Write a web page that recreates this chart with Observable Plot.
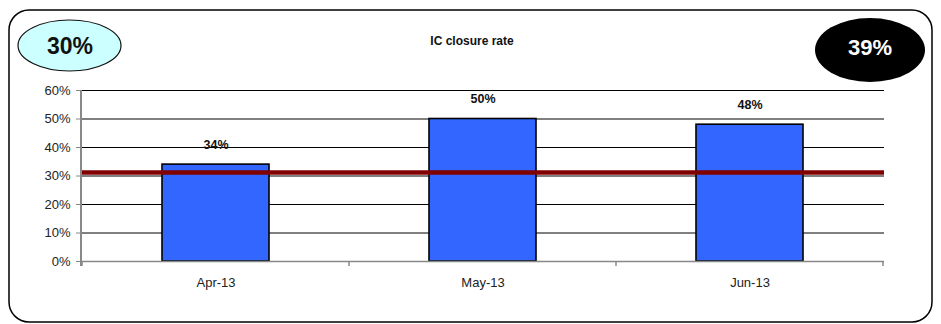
<!DOCTYPE html>
<html>
<head>
<meta charset="utf-8">
<script src="https://cdn.jsdelivr.net/npm/d3@7"></script>
<script src="https://cdn.jsdelivr.net/npm/@observablehq/plot@0.6"></script>
<style>
  html, body { margin: 0; padding: 0; background: #fff; }
  #chart { width: 941px; height: 324px; }
  svg { font-family: "Liberation Sans", Arial, sans-serif; }
</style>
</head>
<body>
<div id="chart"></div>
<script>
// Monthly IC closure rate
const months = ["Apr-13", "May-13", "Jun-13"];
const closureRate = [0.34, 0.50, 0.48];
const targetRate = 0.312;          // horizontal reference line
const badgeLeft = "30%";           // target badge
const badgeRight = "39%";          // period badge
const title = "IC closure rate";
const yTicks = [0, 0.1, 0.2, 0.3, 0.4, 0.5, 0.6];

const rows = months.map((m, i) => ({month: m, rate: closureRate[i]}));
const fmt = d3.format(".0%");

const W = 941, H = 324;
const chart = Plot.plot({
  width: W,
  height: H,
  marginLeft: 81,
  marginRight: 57,
  marginTop: 90,
  marginBottom: 63,
  style: {fontFamily: "Liberation Sans, Arial, sans-serif", fontSize: "13px", background: "transparent"},
  x: {domain: months, paddingInner: 0.6, paddingOuter: 0.3, label: null},
  y: {domain: [0, 0.6], label: null},
  marks: [
    Plot.gridY(yTicks.filter(d => d > 0), {stroke: "#000", strokeOpacity: 1, strokeWidth: 1}),
    Plot.axisY(yTicks, {tickFormat: fmt, tickSize: 5, tickPadding: 6, stroke: "#888", fill: "#222", fontSize: 13}),
    Plot.axisX({tickSize: 0, tickPadding: 16, fill: "#222", fontSize: 13}),
    Plot.barY(rows, {x: "month", y: "rate", fill: "#3366ff", stroke: "#000", strokeWidth: 1.6}),
    Plot.text(rows, {x: "month", y: "rate", text: d => fmt(d.rate), dy: -20, fontWeight: "bold", fontSize: 12.5, fill: "#111"}),
    Plot.ruleY([targetRate], {stroke: "#800000", strokeWidth: 4.5}),
    Plot.ruleY([0], {stroke: "#888", strokeWidth: 1.5})
  ]
});

const svg = d3.select(chart);
const xs = chart.scale("x");
const ys = chart.scale("y");
const y0 = ys.apply(0);
const left = 81;

// axis line and category boundary ticks
svg.append("line").attr("x1", left).attr("x2", left).attr("y1", ys.apply(0.6)).attr("y2", y0 + 5)
  .attr("stroke", "#888").attr("stroke-width", 2);
const bounds = months.map(m => xs.apply(m) - (xs.step - xs.bandwidth) / 2);
bounds.push(bounds[bounds.length - 1] + xs.step);
bounds.forEach(bx => {
  svg.append("line").attr("x1", bx).attr("x2", bx).attr("y1", y0).attr("y2", y0 + 5)
    .attr("stroke", "#888").attr("stroke-width", 1.5);
});

// frame, title and badges
svg.insert("rect", ":first-child").attr("x", 9).attr("y", 10).attr("width", 923).attr("height", 312)
  .attr("rx", 20).attr("ry", 20).attr("fill", "#fff").attr("stroke", "#000").attr("stroke-width", 1.5);
svg.append("text").attr("x", 472).attr("y", 45).attr("text-anchor", "middle")
  .attr("font-size", 12).attr("font-weight", "bold").attr("fill", "#111").text(title);

svg.append("ellipse").attr("cx", 69.5).attr("cy", 45.5).attr("rx", 51.5).attr("ry", 25.5)
  .attr("fill", "#ccffff").attr("stroke", "#111").attr("stroke-width", 1.2);
svg.append("text").attr("x", 70).attr("y", 54).attr("text-anchor", "middle")
  .attr("font-size", 23).attr("font-weight", "bold").attr("fill", "#111").text(badgeLeft);

svg.append("ellipse").attr("cx", 870).attr("cy", 50).attr("rx", 55).attr("ry", 32)
  .attr("fill", "#000");
svg.append("text").attr("x", 870).attr("y", 55).attr("text-anchor", "middle")
  .attr("font-size", 22).attr("font-weight", "bold").attr("fill", "#fff").text(badgeRight);

document.getElementById("chart").appendChild(chart);
</script>
</body>
</html>
